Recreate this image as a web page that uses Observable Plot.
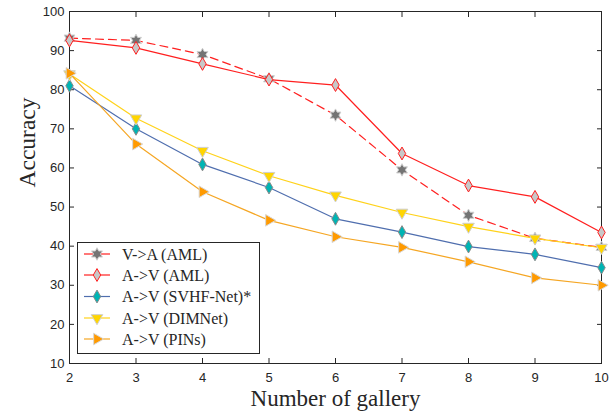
<!DOCTYPE html>
<html><head><meta charset="utf-8">
<script src="https://cdn.jsdelivr.net/npm/d3@7"></script>
<script src="https://cdn.jsdelivr.net/npm/@observablehq/plot@0.6"></script>
<style>
body{margin:0;background:#fff;}
#wrap{position:relative;width:610px;height:411px;overflow:hidden;}
#legend{position:absolute;left:77px;top:242px;}
#legend text{font-family:"Liberation Serif","Times New Roman",serif;font-size:16px;}
</style></head><body><div id="wrap"></div>
<script>
// ---- data ----
const gallery = [2, 3, 4, 5, 6, 7, 8, 9, 10];
const vaAML  = [93.2, 92.6, 89.0, 82.8, 73.5, 59.5, 47.9, 42.0, 39.7];
const avAML  = [92.6, 90.7, 86.6, 82.6, 81.2, 63.7, 55.5, 52.6, 43.5];
const svhf   = [81.0, 70.0, 60.9, 55.0, 47.0, 43.6, 39.9, 37.9, 34.5];
const dimnet = [84.0, 72.7, 64.4, 58.0, 53.0, 48.6, 45.0, 42.0, 39.6];
const pins   = [84.2, 66.1, 53.9, 46.6, 42.4, 39.7, 36.0, 31.9, 30.0];
const seriesNames = ["V->A (AML)", "A->V (AML)", "A->V (SVHF-Net)*", "A->V (DIMNet)", "A->V (PINs)"];
const seriesValues = [vaAML, avAML, svhf, dimnet, pins];
const xTicks = [2, 3, 4, 5, 6, 7, 8, 9, 10];
const yTicks = [10, 20, 30, 40, 50, 60, 70, 80, 90, 100];
const xLabel = "Number of gallery";
const yLabel = "Accuracy";

// hexagram symbol
const hexagram = {
  draw(ctx, size) {
    const R = Math.sqrt(size / Math.PI) * 1.35, r = R * 0.55;
    for (let i = 0; i < 12; i++) {
      const a = -Math.PI / 2 + i * Math.PI / 6;
      const rr = i % 2 ? r : R;
      const px = rr * Math.cos(a), py = rr * Math.sin(a);
      i ? ctx.lineTo(px, py) : ctx.moveTo(px, py);
    }
    ctx.closePath();
  }
};

// ---- styles ----
const styles = [
  {line: "#ff1f1f", dash: "8,5", symbol: hexagram, r: 4.6, fill: "#747474", mstroke: "#cfcfcf", rotate: 0},
  {line: "#ff1f1f", dash: null, symbol: "diamond", r: 3.9, fill: "#c8c8c8", mstroke: "#ff1f1f", rotate: 0},
  {line: "#4f6eae", dash: null, symbol: "diamond", r: 3.9, fill: "#00b4b4", mstroke: "#8a8a8a", rotate: 0},
  {line: "#ffd21a", dash: null, symbol: "triangle", r: 4.3, fill: "#ffd500", mstroke: "#cfcfcf", rotate: 180},
  {line: "#f5a623", dash: null, symbol: "triangle", r: 4.3, fill: "#ff9a00", mstroke: "#d8d8d8", rotate: 90}
];

const tables = seriesValues.map(vals => gallery.map((g, i) => ({g, v: vals[i]})));

const marks = [];
tables.forEach((t, k) => {
  const s = styles[k];
  marks.push(Plot.line(t, {x: "g", y: "v", stroke: s.line, strokeWidth: 1.2, strokeDasharray: s.dash}));
  marks.push(Plot.dot(t, {x: "g", y: "v", symbol: s.symbol, r: s.r, fill: s.fill, stroke: s.mstroke, strokeWidth: 1, rotate: s.rotate}));
});

const axisColor = "#262626";
const serif = "'Liberation Serif', 'Times New Roman', serif";
const chart = Plot.plot({
  width: 610, height: 411,
  marginLeft: 69, marginRight: 9, marginTop: 11, marginBottom: 48,
  x: {domain: [2, 10], label: null},
  y: {domain: [10, 100], label: null},
  style: {fontFamily: "'Liberation Sans', Arial, sans-serif", fontSize: "13px", color: axisColor, background: "#fff"},
  marks: [
    Plot.axisX({ticks: xTicks, tickSize: -5, tickPadding: 14, label: null, stroke: axisColor, fill: axisColor}),
    Plot.axisX({anchor: "top", ticks: xTicks, tickSize: -5, tickFormat: () => "", label: null, stroke: axisColor}),
    Plot.axisY({ticks: yTicks, tickSize: -5, tickPadding: 10, label: null, stroke: axisColor, fill: axisColor}),
    Plot.axisY({anchor: "right", ticks: yTicks, tickSize: -5, tickFormat: () => "", label: null, stroke: axisColor}),
    Plot.frame({stroke: axisColor, strokeWidth: 1}),
    ...marks,
    Plot.text([xLabel], {text: d => d, frameAnchor: "bottom", lineAnchor: "middle", dy: 35, fontSize: 23, fontFamily: serif, fill: axisColor}),
    Plot.text([yLabel], {text: d => d, frameAnchor: "left", dx: -42, rotate: -90, fontSize: 23.5, fontFamily: serif, fill: axisColor})
  ]
});
document.getElementById("wrap").appendChild(chart);

// ---- legend ----
const lw = 183, lh = 112;
const leg = d3.select("#wrap").append("svg").attr("id", "legend").attr("width", lw).attr("height", lh);
leg.append("rect").attr("x", 0.5).attr("y", 0.5).attr("width", lw - 1).attr("height", lh - 1)
  .attr("fill", "#fff").attr("stroke", axisColor);
const rowY = [12, 33, 54.5, 76, 97];
const symMap = {diamond: d3.symbolDiamond, triangle: d3.symbolTriangle};
seriesNames.forEach((name, k) => {
  const s = styles[k], y = rowY[k];
  leg.append("line").attr("x1", 7).attr("x2", 33).attr("y1", y).attr("y2", y)
    .attr("stroke", s.line).attr("stroke-width", 1.2);
  const sym = typeof s.symbol === "string" ? symMap[s.symbol] : s.symbol;
  leg.append("path").attr("d", d3.symbol(sym, Math.PI * s.r * s.r)())
    .attr("transform", `translate(20,${y}) rotate(${s.rotate})`)
    .attr("fill", s.fill).attr("stroke", s.mstroke).attr("stroke-width", 1);
  leg.append("text").attr("x", 45).attr("y", y).attr("dy", "0.35em")
    .attr("fill", axisColor).text(name);
});
</script></body></html>
